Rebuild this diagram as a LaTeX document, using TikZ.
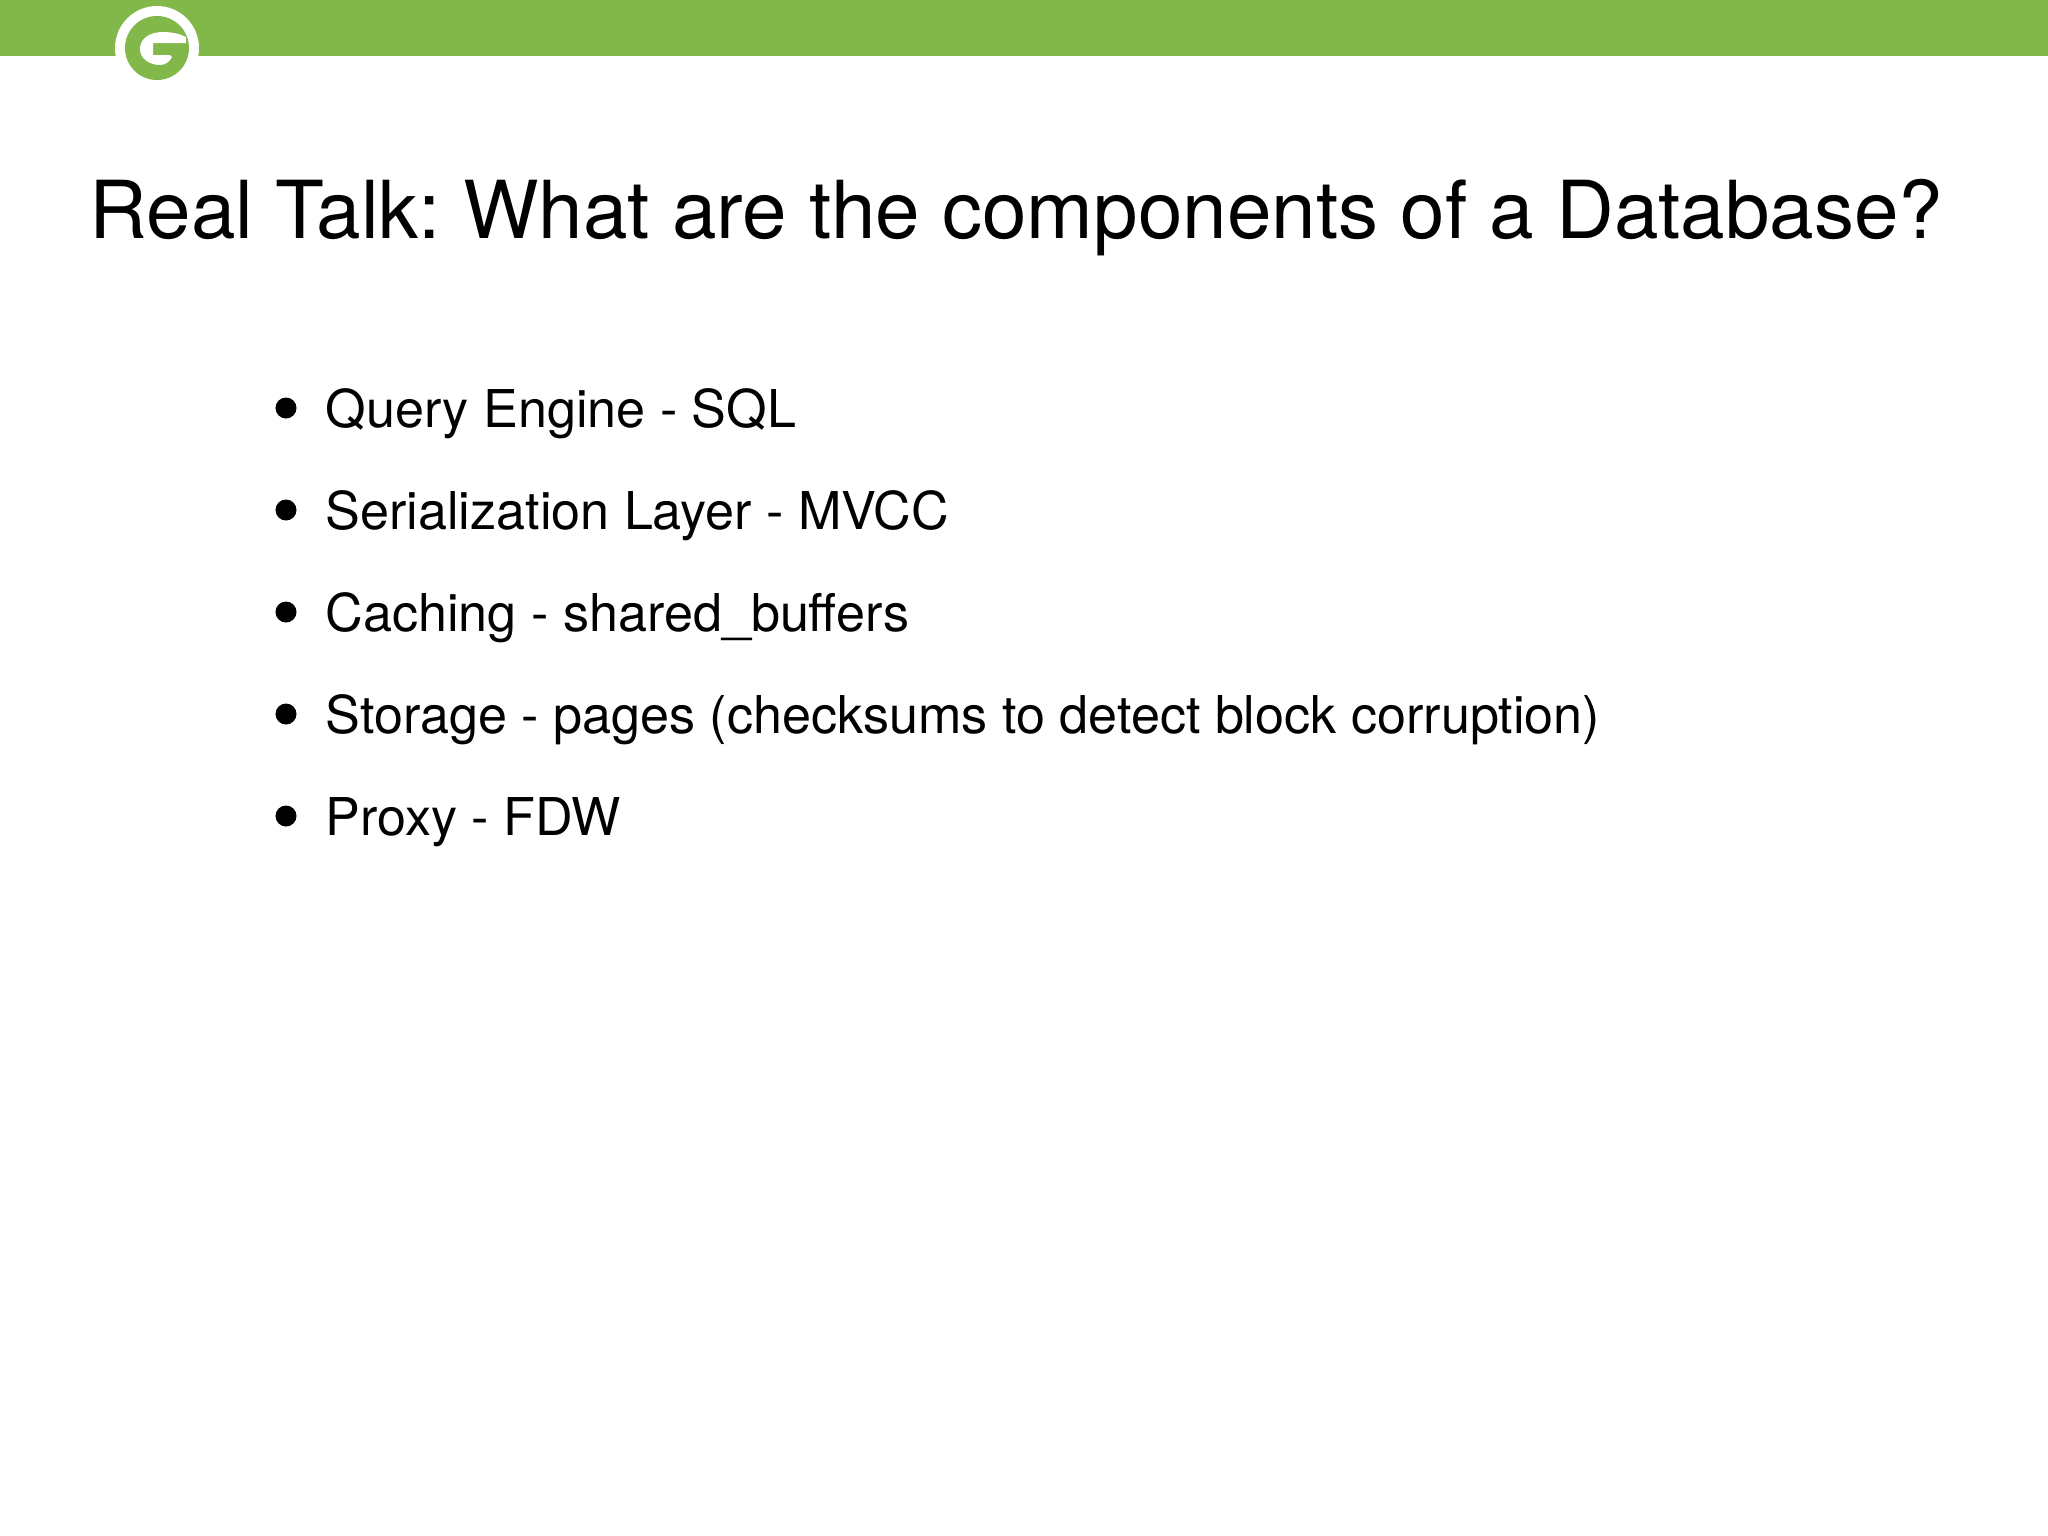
\documentclass[tikz,border=0pt]{standalone}
\usepackage{fontspec}
\setmainfont{TeX Gyre Heros}
\usetikzlibrary{positioning}
\definecolor{barGreen}{HTML}{82B74A}
\tikzset{titletext/.style={anchor=base west, inner sep=0pt, font=\fontsize{22.75pt}{28pt}\selectfont\frenchspacing}}
\tikzset{itemtext/.style={anchor=base west, inner sep=0pt, font=\fontsize{14.82pt}{18pt}\selectfont}}
\tikzset{itemdot/.style={circle, fill=black, inner sep=0pt, minimum size=0.21cm}}

\begin{document}
\begin{tikzpicture}[x=0.01cm, y=-0.01cm]
		\useasboundingbox (0,0) rectangle (2048,1536);
		\fill[barGreen] (0,0) rectangle (2048,56);
		
		% logo
		\fill[white] (157,48) circle (42);
		\fill[barGreen] (157,48) circle (32);
		\fill[white] (186,37) .. controls (178,33) and (170,32) .. (163,32)
			.. controls (149,32) and (140,39) .. (140,49)
			.. controls (140,59) and (150,65) .. (160,65)
			.. controls (166,65) and (170,61) .. (172,57)
			-- (170,55) -- (153,55) -- (153,43) -- (186,43) -- cycle;
		
		\node[titletext] (title) at (89,238) {Real Talk: What are the components of a Database?};
		
		\node[itemdot] (dot1) at (286,408) {};
		\node[itemdot] (dot2) at (286,510) {};
		\node[itemdot] (dot3) at (286,612) {};
		\node[itemdot] (dot4) at (286,714) {};
		\node[itemdot] (dot5) at (286,816) {};
		
		\node[itemtext] (query) at (325,427) {Query Engine - SQL};
		\node[itemtext] (serial) at (325,529) {Serialization Layer - MVCC};
		\node[itemtext] (cache) at (325,631) {Caching - shared\_buffers};
		\node[itemtext] (storage) at (325,733) {Storage - pages (checksums to detect block corruption)};
		\node[itemtext] (proxy) at (325,835) {Proxy - FDW};
	\end{tikzpicture}
\end{document}
